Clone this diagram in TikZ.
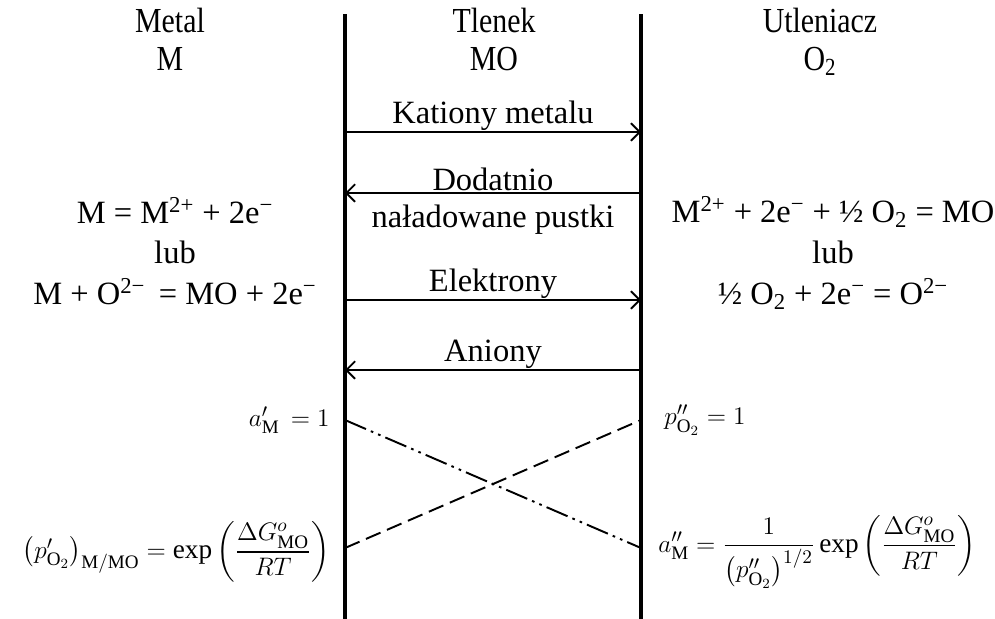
\documentclass[tikz,border=0pt]{standalone}
\usepackage{amsmath}
\usepackage{fontspec}
\setmainfont{Liberation Serif}
\newfontfamily\headfont[FakeStretch=0.85]{Liberation Serif}
\usetikzlibrary{arrows.meta, positioning, calc}

\begin{document}
\begin{tikzpicture}[
    x=0.02cm, y=-0.02cm,
    phase/.style={font=\fontsize{20}{21.5}\selectfont\headfont, align=center, inner sep=0pt, anchor=north},
    fluxtext/.style={font=\fontsize{18.5}{20}\selectfont, inner sep=0.5pt},
    reaction/.style={font=\fontsize{18.5}{23.2}\selectfont, align=center},
    formula/.style={font=\fontsize{15.5}{18}\selectfont, inner sep=0pt},
    wall/.style={line width=2.4pt},
    flux/.style={-{Straight Barb[length=5pt, width=10pt]}, line width=1.1pt},
    crossline/.style={line width=1.1pt}
]
    \useasboundingbox (0,0) rectangle (995,619);

    % Phases
    \node[phase] (metal) at (170,8) {Metal\\M};
    \node[phase] (oxide) at (494,8) {Tlenek\\MO};
    \node[phase] (oxidant) at (820,8) {Utleniacz\\O\textsubscript{2}};

    % Walls
    \coordinate (wl top) at (345,14);
    \coordinate (wl bot) at (345,619);
    \coordinate (wr top) at (641,14);
    \coordinate (wr bot) at (641,619);
    \draw[wall] (wl top) -- (wl bot);
    \draw[wall] (wr top) -- (wr bot);

    % Fluxes
    \coordinate (kat l) at (345,132);
    \coordinate (kat r) at (641,132);
    \coordinate (dod l) at (345,193);
    \coordinate (dod r) at (641,193);
    \coordinate (ele l) at (345,300);
    \coordinate (ele r) at (641,300);
    \coordinate (ani l) at (345,370);
    \coordinate (ani r) at (641,370);
    \draw[flux] (kat l) -- node[fluxtext, above] (kationy) {Kationy metalu} (kat r);
    \draw[flux] (dod r) -- node[fluxtext, above] (dodatnio) {Dodatnio}
        node[fluxtext, below=6pt] (pustki) {naładowane pustki} (dod l);
    \draw[flux] (ele l) -- node[fluxtext, above] (elektrony) {Elektrony} (ele r);
    \draw[flux] (ani r) -- node[fluxtext, above] (aniony) {Aniony} (ani l);

    % Reactions
    \node[reaction] (anode) at (175,251)
        {M = M\textsuperscript{2+} + 2e\textsuperscript{−}\\lub\\M + O\textsuperscript{2−}\, = MO + 2e\textsuperscript{−}};
    \node[reaction] (cathode) at (833,253)
        {M\textsuperscript{2+} + 2e\textsuperscript{−} + ½ O\textsubscript{2} = MO\\lub\\½ O\textsubscript{2} + 2e\textsuperscript{−} = O\textsuperscript{2−}};

    % Activities
    \node[formula, anchor=east] (am left) at (330,420) {$a^{\prime}_{\mathrm{M}} \,= 1$};
    \node[formula, anchor=east] (po left) at (330,552)
        {$\bigl(p^{\prime}_{\mathrm{O}_2}\bigr)_{\mathrm{M/MO}} = \exp\left(\dfrac{\Delta G^{o}_{\mathrm{MO}}}{RT}\right)$};
    \node[formula, anchor=west] (po right) at (664,420) {$p^{\prime\prime}_{\mathrm{O}_2} = 1$};
    \node[formula, anchor=west] (am right) at (658,552)
        {$a^{\prime\prime}_{\mathrm{M}} = \dfrac{1}{\bigl(p^{\prime\prime}_{\mathrm{O}_2}\bigr)^{1/2}}\exp\left(\dfrac{\Delta G^{o}_{\mathrm{MO}}}{RT}\right)$};

    % Profiles
    \coordinate (am l) at (345,420);
    \coordinate (am r) at (641,548);
    \coordinate (po l) at (345,548);
    \coordinate (po r) at (641,420);
    \draw[crossline, dash pattern=on 13pt off 3pt on 1.5pt off 3pt on 1.5pt off 3pt] (am l) -- (am r);
    \draw[crossline, dash pattern=on 9pt off 4pt] (po l) -- (po r);
\end{tikzpicture}
\end{document}
